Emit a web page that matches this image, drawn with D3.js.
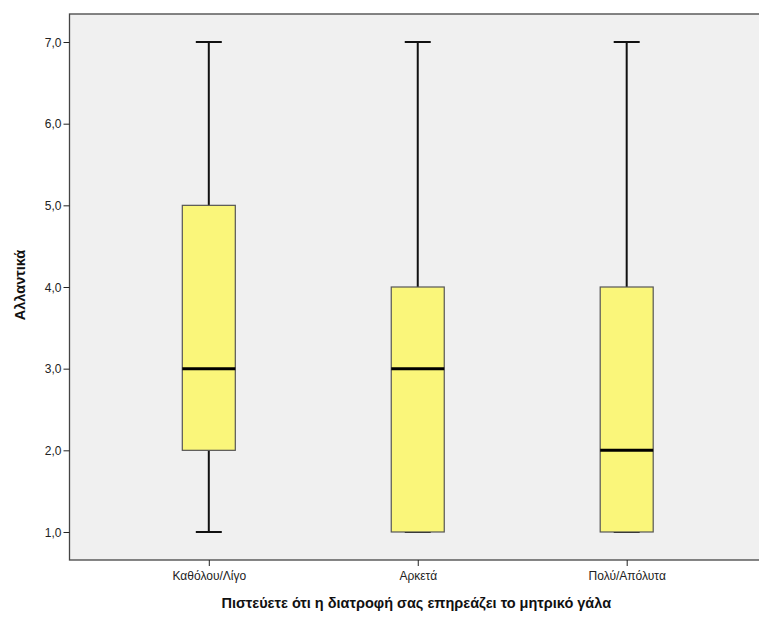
<!DOCTYPE html>
<html>
<head>
<meta charset="utf-8">
<script src="https://cdn.jsdelivr.net/npm/d3@7"></script>
<style>
  html, body { margin: 0; padding: 0; background: #fff; }
  svg { display: block; font-family: Arial, "Liberation Sans", sans-serif; }
</style>
</head>
<body>
<script>
const categories = ['Καθόλου/Λίγο', 'Αρκετά', 'Πολύ/Απόλυτα']
const whiskerLow = [1, 1, 1]
const quartile1 = [2, 1, 1]
const medians = [3, 3, 2]
const quartile3 = [5, 4, 4]
const whiskerHigh = [7, 7, 7]
const yTicks = [1, 2, 3, 4, 5, 6, 7]

const SIZE = { WIDTH: 759, HEIGHT: 617 }
const PLOT = { LEFT: 69.5, TOP: 14, BOTTOM: 560, RIGHT: 766 }

const boxes = categories.map((name, i) => ({
  name,
  low: whiskerLow[i],
  q1: quartile1[i],
  median: medians[i],
  q3: quartile3[i],
  high: whiskerHigh[i]
}))

const svg = d3.select('body').append('svg')
  .attr('width', SIZE.WIDTH)
  .attr('height', SIZE.HEIGHT)

const x = d3.scalePoint()
  .domain(categories)
  .range([PLOT.LEFT, PLOT.RIGHT])
  .padding(0.6667)

const y = d3.scaleLinear()
  .domain([0.657, 7.343])
  .range([PLOT.BOTTOM, PLOT.TOP])

// plot background
svg.append('rect')
  .attr('x', PLOT.LEFT)
  .attr('y', PLOT.TOP)
  .attr('width', PLOT.RIGHT - PLOT.LEFT)
  .attr('height', PLOT.BOTTOM - PLOT.TOP)
  .attr('fill', '#f0f0f0')
  .attr('stroke', '#444')
  .attr('stroke-width', 1.3)

const yAxis = svg.append('g')
  .attr('transform', `translate(${PLOT.LEFT},0)`)
  .call(d3.axisLeft(y).tickValues(yTicks).tickSize(6).tickSizeOuter(0)
    .tickFormat(d => d3.format('.1f')(d).replace('.', ',')))
yAxis.select('.domain').remove()
yAxis.selectAll('line').attr('stroke', '#222')
yAxis.selectAll('text')
  .attr('font-size', 12)
  .attr('fill', '#222')
  .attr('x', -8)
  .attr('dy', '0.35em')

const xAxis = svg.append('g')
  .attr('transform', `translate(0,${PLOT.BOTTOM})`)
  .call(d3.axisBottom(x).tickSize(6).tickSizeOuter(0))
xAxis.select('.domain').remove()
xAxis.selectAll('line').attr('stroke', '#222')
xAxis.selectAll('text')
  .attr('font-size', 12)
  .attr('fill', '#222')
  .attr('y', 11)

const boxWidth = 53
const capWidth = 26

const g = svg.append('g')
  .selectAll('g')
  .data(boxes)
  .join('g')
  .attr('transform', d => `translate(${x(d.name)},0)`)

g.append('line')
  .attr('y1', d => y(d.high))
  .attr('y2', d => y(d.low))
  .attr('stroke', '#111')
  .attr('stroke-width', 2)

g.append('line')
  .attr('x1', -capWidth / 2).attr('x2', capWidth / 2)
  .attr('y1', d => y(d.high)).attr('y2', d => y(d.high))
  .attr('stroke', '#111').attr('stroke-width', 2)

g.append('line')
  .attr('x1', -capWidth / 2).attr('x2', capWidth / 2)
  .attr('y1', d => y(d.low)).attr('y2', d => y(d.low))
  .attr('stroke', '#111').attr('stroke-width', 2)

g.append('rect')
  .attr('x', -boxWidth / 2)
  .attr('width', boxWidth)
  .attr('y', d => y(d.q3))
  .attr('height', d => y(d.q1) - y(d.q3))
  .attr('fill', '#faf67a')
  .attr('stroke', '#555')
  .attr('stroke-width', 1.2)

g.append('line')
  .attr('x1', -boxWidth / 2).attr('x2', boxWidth / 2)
  .attr('y1', d => y(d.median)).attr('y2', d => y(d.median))
  .attr('stroke', '#000').attr('stroke-width', 3)

svg.append('text')
  .attr('x', (PLOT.LEFT + 759) / 2 + 2)
  .attr('y', 608)
  .attr('text-anchor', 'middle')
  .attr('font-size', 14.5)
  .attr('font-weight', 'bold')
  .attr('fill', '#111')
  .text('Πιστεύετε ότι η διατροφή σας επηρεάζει το μητρικό γάλα')

svg.append('text')
  .attr('transform', `translate(25,${(PLOT.TOP + PLOT.BOTTOM) / 2 - 2}) rotate(-90)`)
  .attr('text-anchor', 'middle')
  .attr('font-size', 14.5)
  .attr('font-weight', 'bold')
  .attr('fill', '#111')
  .text('Αλλαντικά')
</script>
</body>
</html>
